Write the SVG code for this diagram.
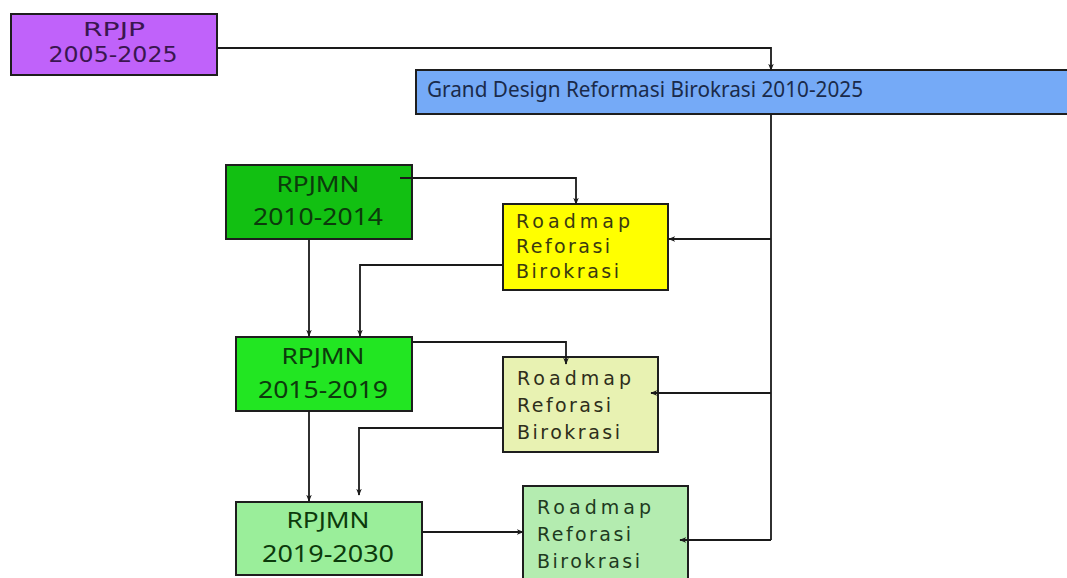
<svg xmlns="http://www.w3.org/2000/svg" width="1067" height="578" viewBox="0 0 1067 578">
<style>
.box{stroke:#1e1e1e;stroke-width:2}
.t{font-family:"Noto Sans","DejaVu Sans","Liberation Sans",sans-serif;font-size:21px}
.d{font-family:"DejaVu Sans","Liberation Sans",sans-serif}
.y{font-size:24px}
.r{font-family:"DejaVu Sans","Noto Sans",sans-serif;font-size:19px}
.c{text-anchor:middle}
.ln{fill:none;stroke:#1a1a1a;stroke-width:1.8}
</style>
<defs>
<marker id="ah" viewBox="0 0 10 10" refX="9" refY="5" markerWidth="7" markerHeight="7" orient="auto" markerUnits="userSpaceOnUse">
<path d="M0,1 L10,5 L0,9 L3,5 z" fill="#1a1a1a"/>
</marker>
</defs>
<rect width="1067" height="578" fill="#ffffff"/>
<g id="rpjp">
<rect class="box" x="11" y="14" width="206" height="61" fill="#c062fa"/>
<text class="d c" x="114" y="36" fill="#3a1650" font-size="19" textLength="62" lengthAdjust="spacingAndGlyphs">RPJP</text>
<text class="d c" x="113" y="62" fill="#3a1650" font-size="22" textLength="129" lengthAdjust="spacingAndGlyphs">2005-2025</text>
</g>
<g id="grand-design">
<rect class="box" x="416" y="70" width="652" height="44" fill="#75aaf7"/>
<text class="t" x="427" y="97" fill="#1a2a4a" textLength="436" lengthAdjust="spacingAndGlyphs">Grand Design Reformasi Birokrasi 2010-2025</text>
</g>
<g id="rpjmn1">
<rect class="box" x="226" y="165" width="186" height="74" fill="#12c012"/>
<text class="t c" x="318" y="192" fill="#0c3a0c" textLength="83" lengthAdjust="spacingAndGlyphs">RPJMN</text>
<text class="t y c" x="318" y="225" fill="#0c3a0c" textLength="130" lengthAdjust="spacingAndGlyphs">2010-2014</text>
</g>
<g id="roadmap1">
<rect class="box" x="503" y="204" width="165" height="86" fill="#ffff00"/>
<text class="r" x="516" y="228" fill="#3a3a10" textLength="114" lengthAdjust="spacing">Roadmap</text>
<text class="r" x="516" y="253" fill="#3a3a10" textLength="94" lengthAdjust="spacing">Reforasi</text>
<text class="r" x="516" y="278" fill="#3a3a10" textLength="103" lengthAdjust="spacing">Birokrasi</text>
</g>
<g id="rpjmn2">
<rect class="box" x="236" y="337" width="176" height="74" fill="#22e622"/>
<text class="t c" x="323" y="364" fill="#0c3a0c" textLength="83" lengthAdjust="spacingAndGlyphs">RPJMN</text>
<text class="t y c" x="323" y="398" fill="#0c3a0c" textLength="130" lengthAdjust="spacingAndGlyphs">2015-2019</text>
</g>
<g id="roadmap2">
<rect class="box" x="503" y="357" width="155" height="95" fill="#e8f2b2"/>
<text class="r" x="517" y="385" fill="#2e2e1a" textLength="114" lengthAdjust="spacing">Roadmap</text>
<text class="r" x="517" y="412" fill="#2e2e1a" textLength="94" lengthAdjust="spacing">Reforasi</text>
<text class="r" x="517" y="439" fill="#2e2e1a" textLength="103" lengthAdjust="spacing">Birokrasi</text>
</g>
<g id="rpjmn3">
<rect class="box" x="236" y="502" width="186" height="73" fill="#9aee9a"/>
<text class="t c" x="328" y="528" fill="#0c3a0c" textLength="83" lengthAdjust="spacingAndGlyphs">RPJMN</text>
<text class="t y c" x="328" y="562" fill="#0c3a0c" textLength="132" lengthAdjust="spacingAndGlyphs">2019-2030</text>
</g>
<g id="roadmap3">
<rect class="box" x="523" y="486" width="165" height="100" fill="#b4ecb0"/>
<text class="r" x="537" y="514" fill="#1e3a1e" textLength="114" lengthAdjust="spacing">Roadmap</text>
<text class="r" x="537" y="541" fill="#1e3a1e" textLength="94" lengthAdjust="spacing">Reforasi</text>
<text class="r" x="537" y="568" fill="#1e3a1e" textLength="103" lengthAdjust="spacing">Birokrasi</text>
</g>
<g id="connectors">
<path class="ln" d="M217,48 H771 V70" marker-end="url(#ah)"/>
<path class="ln" d="M771,114 V540"/>
<path class="ln" d="M771,239 H669" marker-end="url(#ah)"/>
<path class="ln" d="M771,393 H651" marker-end="url(#ah)"/>
<path class="ln" d="M771,540 H680" marker-end="url(#ah)"/>
<path class="ln" d="M400,178 H576 V204" marker-end="url(#ah)"/>
<path class="ln" d="M309,239 V336" marker-end="url(#ah)"/>
<path class="ln" d="M503,265 H360 V336" marker-end="url(#ah)"/>
<path class="ln" d="M412,342 H566 V364" marker-end="url(#ah)"/>
<path class="ln" d="M309,411 V501" marker-end="url(#ah)"/>
<path class="ln" d="M503,428 H359 V495" marker-end="url(#ah)"/>
<path class="ln" d="M422,532 H523" marker-end="url(#ah)"/>
</g>
</svg>
